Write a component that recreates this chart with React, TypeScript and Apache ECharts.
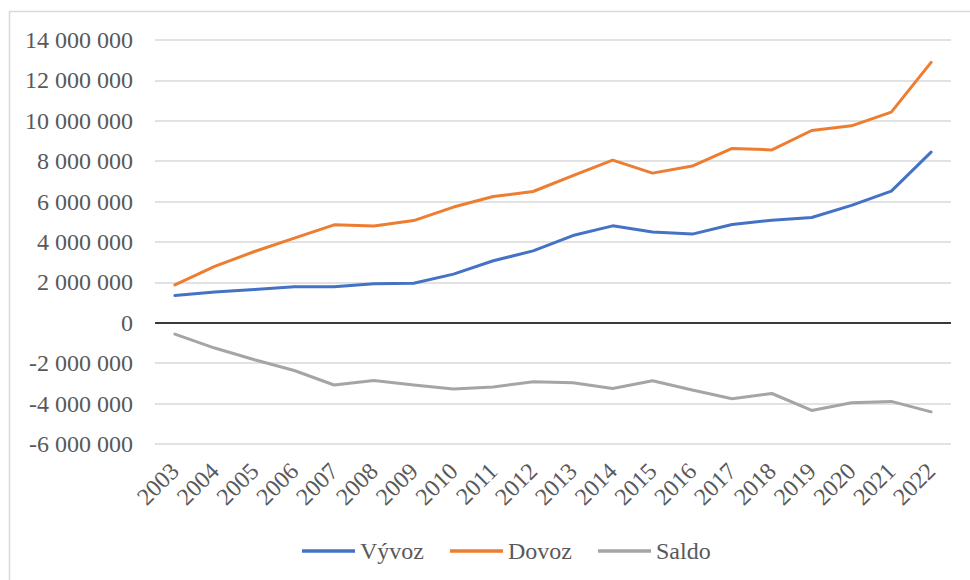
import React, { useEffect, useRef } from "react";
import * as echarts from "echarts";

const years = ["2003","2004","2005","2006","2007","2008","2009","2010","2011","2012","2013","2014","2015","2016","2017","2018","2019","2020","2021","2022"];
const vyvoz = [1350000,1520000,1650000,1780000,1780000,1930000,1960000,2410000,3070000,3560000,4320000,4800000,4500000,4390000,4870000,5080000,5210000,5810000,6520000,8450000];
const dovoz = [1880000,2790000,3530000,4190000,4850000,4790000,5060000,5730000,6250000,6500000,7290000,8050000,7410000,7760000,8630000,8560000,9520000,9750000,10430000,12890000];
const saldo = [-560000,-1250000,-1830000,-2360000,-3080000,-2860000,-3080000,-3280000,-3180000,-2920000,-2970000,-3250000,-2870000,-3330000,-3760000,-3500000,-4340000,-3960000,-3890000,-4410000];

const FONT = "'Liberation Serif', serif";
const TXT = "#595959";

function fmt(v: number): string {
  const neg = v < 0;
  const s = Math.abs(v).toString().replace(/\B(?=(\d{3})+(?!\d))/g, " ");
  return (neg ? "-" : "") + s;
}

export default function App() {
  const ref = useRef<HTMLDivElement>(null);
  useEffect(() => {
    document.body.style.margin = "0";
    const chart = echarts.init(ref.current!, null, { renderer: "svg" });
    chart.setOption({
      animation: false,
      backgroundColor: "#ffffff",
      textStyle: { fontFamily: FONT },
      graphic: [
        {
          type: "rect",
          shape: { x: 9.5, y: 11.5, width: 1000, height: 620 },
          style: { fill: "none", stroke: "#d9d9d9", lineWidth: 1.5 },
          silent: true,
        },
      ],
      grid: { left: 155, right: 19, top: 40, bottom: 136 },
      legend: {
        left: 297,
        top: 534,
        icon: "rect",
        itemWidth: 53,
        itemHeight: 3.5,
        itemGap: 26,
        textStyle: { fontFamily: FONT, fontSize: 24, color: TXT, lineHeight: 24 },
        data: ["Vývoz", "Dovoz", "Saldo"],
      },
      xAxis: {
        type: "category",
        data: years,
        boundaryGap: true,
        axisLine: { show: false, onZero: false },
        axisTick: { show: false },
        axisLabel: {
          rotate: 45,
          margin: 23,
          fontSize: 24,
          color: TXT,
          fontFamily: FONT,
          interval: 0,
        },
        splitLine: { show: false },
      },
      yAxis: {
        type: "value",
        min: -6000000,
        max: 14000000,
        interval: 2000000,
        axisLine: { show: false },
        axisTick: { show: false },
        axisLabel: {
          margin: 22,
          fontSize: 24,
          color: TXT,
          fontFamily: FONT,
          formatter: (v: number) => fmt(v),
        },
        splitLine: { lineStyle: { color: "#d9d9d9", width: 1.5 } },
      },
      series: [
        {
          name: "Vývoz",
          type: "line",
          data: vyvoz,
          symbol: "none",
          lineStyle: { color: "#4472C4", width: 3, cap: "round", join: "round" },
          itemStyle: { color: "#4472C4" },
          z: 3,
          markLine: {
            silent: true,
            symbol: "none",
            label: { show: false },
            lineStyle: { color: "#000000", width: 1.5, type: "solid" },
            data: [{ yAxis: 0 }],
            z: 1,
          },
        },
        {
          name: "Dovoz",
          type: "line",
          data: dovoz,
          symbol: "none",
          lineStyle: { color: "#ED7D31", width: 3, cap: "round", join: "round" },
          itemStyle: { color: "#ED7D31" },
          z: 3,
        },
        {
          name: "Saldo",
          type: "line",
          data: saldo,
          symbol: "none",
          lineStyle: { color: "#A5A5A5", width: 3, cap: "round", join: "round" },
          itemStyle: { color: "#A5A5A5" },
          z: 3,
        },
      ],
    });
    return () => chart.dispose();
  }, []);
  return <div ref={ref} style={{ width: 970, height: 580 }} />;
}
